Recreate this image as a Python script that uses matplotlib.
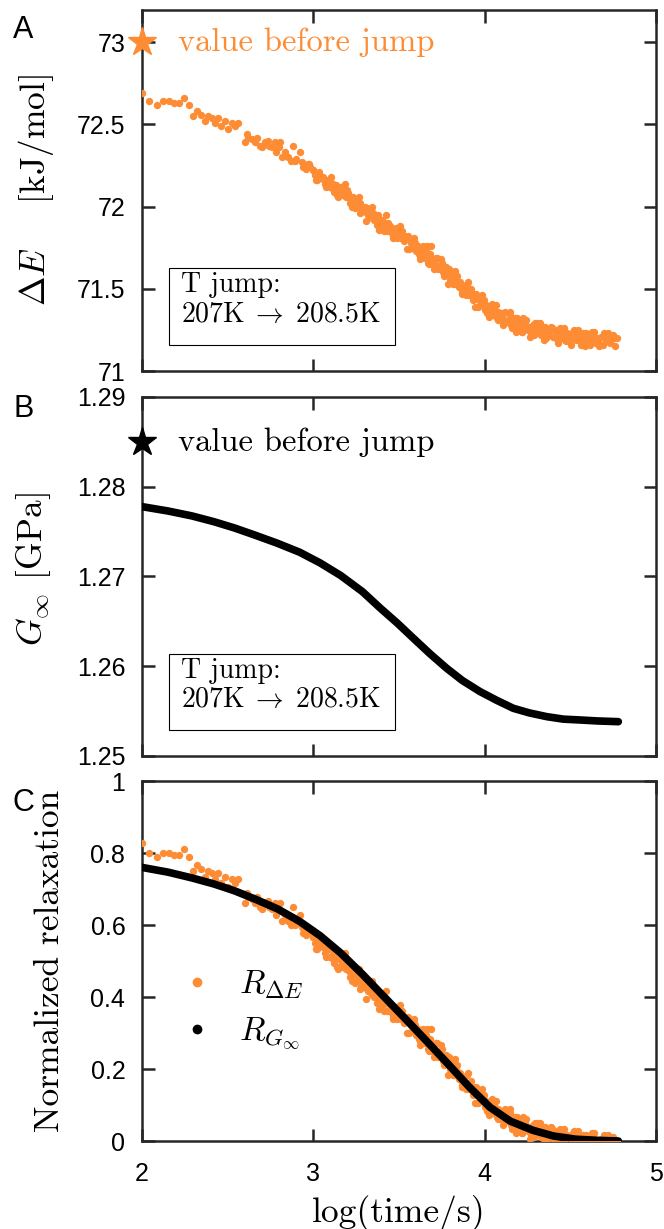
import matplotlib
matplotlib.use('Agg')
import matplotlib.pyplot as plt
from matplotlib.lines import Line2D
from matplotlib.patches import Rectangle
import numpy as np

plt.rcParams['font.family'] = ['Liberation Sans', 'DejaVu Sans']
plt.rcParams['mathtext.fontset'] = 'cm'

# ---- data ----
# panel A: activation energy after the T jump (orange dots)
log_t_dE = [2.000, 2.043, 2.086, 2.120, 2.157, 2.186, 2.218, 2.247, 2.276, 2.300,
            2.323, 2.344, 2.368, 2.387, 2.407, 2.426, 2.445, 2.459, 2.484, 2.504,
            2.523, 2.543, 2.562, 2.601, 2.610, 2.620, 2.640, 2.660, 2.670, 2.689,
            2.700, 2.718, 2.737, 2.740, 2.757, 2.776, 2.780, 2.800, 2.805, 2.815,
            2.835, 2.840, 2.854, 2.870, 2.883, 2.893, 2.900, 2.922, 2.932, 2.941,
            2.950, 2.971, 2.980, 3.000, 3.010, 3.020, 3.029, 3.040, 3.058, 3.070,
            3.087, 3.100, 3.117, 3.120, 3.130, 3.140, 3.156, 3.170, 3.185, 3.190,
            3.204, 3.210, 3.220, 3.233, 3.243, 3.250, 3.260, 3.272, 3.280, 3.292,
            3.300, 3.311, 3.320, 3.331, 3.340, 3.350, 3.360, 3.370, 3.380, 3.390,
            3.399, 3.409, 3.420, 3.430, 3.447, 3.450, 3.460, 3.467, 3.470,
            3.48, 3.49, 3.50, 3.51, 3.52, 3.53, 3.54, 3.55, 3.56, 3.57,
            3.58, 3.59, 3.60, 3.61, 3.62, 3.63, 3.64, 3.65, 3.66, 3.67,
            3.68, 3.685, 3.69, 3.70, 3.71, 3.72, 3.73, 3.74, 3.75, 3.76, 3.77,
            3.78, 3.79, 3.80, 3.81, 3.82, 3.83, 3.84, 3.85, 3.86, 3.87,
            3.88, 3.89, 3.90, 3.91, 3.92, 3.93, 3.94, 3.95, 3.96, 3.97,
            3.98, 3.99, 4.00, 4.01, 4.02, 4.03, 4.04, 4.05, 4.06, 4.07,
            4.08, 4.09, 4.10, 4.11, 4.12, 4.13, 4.14, 4.15, 4.16, 4.17,
            4.18, 4.19, 4.20, 4.21, 4.22, 4.23, 4.24, 4.25, 4.26, 4.27,
            4.28, 4.29, 4.30, 4.31, 4.32, 4.33, 4.34, 4.35, 4.36, 4.37,
            4.38, 4.39, 4.40, 4.41, 4.42, 4.43, 4.44, 4.45, 4.46, 4.47,
            4.48, 4.49, 4.50, 4.51, 4.52, 4.53, 4.54, 4.55, 4.56, 4.57,
            4.58, 4.59, 4.60, 4.61, 4.62, 4.63, 4.64, 4.65, 4.66, 4.67,
            4.68, 4.69, 4.70, 4.71, 4.72, 4.73, 4.74, 4.75, 4.76, 4.77]
dE = [72.69, 72.64, 72.62, 72.64, 72.64, 72.63, 72.63, 72.66, 72.62, 72.55,
      72.58, 72.56, 72.52, 72.55, 72.54, 72.51, 72.54, 72.49, 72.52, 72.47,
      72.51, 72.49, 72.51, 72.39, 72.44, 72.42, 72.41, 72.39, 72.42, 72.37,
      72.36, 72.39, 72.40, 72.37, 72.36, 72.39, 72.33, 72.36, 72.39, 72.30,
      72.33, 72.31, 72.30, 72.28, 72.37, 72.28, 72.29, 72.33, 72.27, 72.24,
      72.25, 72.26, 72.24, 72.22, 72.19, 72.16, 72.20, 72.18, 72.17, 72.14,
      72.16, 72.12, 72.14, 72.09, 72.11, 72.07, 72.12, 72.09, 72.11, 72.06,
      72.08, 72.05, 72.02, 72.06, 71.99, 72.03, 72.00, 72.02, 71.97, 71.99,
      72.00, 71.96, 71.95, 71.98, 71.93, 71.96, 71.94, 71.89, 71.91, 71.87,
      71.92, 71.88, 71.90, 71.85, 71.86, 71.88, 71.84, 71.82, 71.86,
      71.87, 71.81, 71.84, 71.81, 71.85, 71.79, 71.80, 71.82, 71.74, 71.78,
      71.76, 71.79, 71.73, 71.76, 71.70, 71.74, 71.76, 71.69, 71.70, 71.66,
      71.71, 71.76, 71.65, 71.68, 71.65, 71.69, 71.62, 71.63, 71.66, 71.58, 71.62,
      71.59, 71.62, 71.56, 71.59, 71.53, 71.56, 71.58, 71.51, 71.52, 71.48,
      71.52, 71.46, 71.49, 71.46, 71.50, 71.43, 71.44, 71.47, 71.39, 71.43,
      71.40, 71.43, 71.37, 71.40, 71.35, 71.38, 71.41, 71.34, 71.35, 71.32,
      71.36, 71.31, 71.34, 71.31, 71.36, 71.30, 71.31, 71.34, 71.26, 71.31,
      71.28, 71.32, 71.26, 71.30, 71.24, 71.28, 71.31, 71.25, 71.26, 71.23,
      71.28, 71.22, 71.26, 71.24, 71.29, 71.22, 71.24, 71.27, 71.20, 71.25,
      71.22, 71.26, 71.21, 71.25, 71.20, 71.23, 71.26, 71.20, 71.22, 71.19,
      71.23, 71.18, 71.22, 71.20, 71.25, 71.19, 71.21, 71.23, 71.16, 71.21,
      71.19, 71.23, 71.18, 71.22, 71.17, 71.21, 71.24, 71.17, 71.19, 71.16,
      71.21, 71.16, 71.20, 71.18, 71.23, 71.17, 71.19, 71.22, 71.15, 71.20]
# the dense late part of the same series (points in between the ones above)
log_t_dE2 = [2.955, 2.975, 2.995, 3.015, 3.035, 3.055, 3.075, 3.095, 3.115, 3.135,
             3.155, 3.175, 3.195, 3.215, 3.235, 3.255, 3.275, 3.295, 3.315, 3.335,
             3.355, 3.375, 3.395, 3.415, 3.435, 3.455, 3.475, 3.495, 3.515, 3.535,
             3.555, 3.575, 3.595, 3.615, 3.635, 3.655, 3.675, 3.695, 3.715, 3.735,
             3.755, 3.775, 3.795, 3.815, 3.835, 3.855, 3.875, 3.895, 3.915, 3.935,
             3.955, 3.975, 3.995, 4.015, 4.035, 4.055, 4.075, 4.095, 4.115, 4.135,
             4.155, 4.175, 4.195, 4.215, 4.235, 4.255, 4.275, 4.295, 4.315, 4.335,
             4.355, 4.375, 4.395, 4.415, 4.435, 4.455, 4.475, 4.495, 4.515, 4.535,
             4.555, 4.575, 4.595, 4.615, 4.635, 4.655, 4.675, 4.695, 4.715, 4.735,
             4.755,
             3.105, 3.145, 3.185, 3.225, 3.265, 3.305, 3.345, 3.385, 3.425, 3.465,
             3.505, 3.545, 3.585, 3.625, 3.665, 3.705, 3.745, 3.785, 3.825, 3.865,
             3.905, 3.945, 3.985, 4.025, 4.065, 4.105, 4.145, 4.185, 4.225, 4.265,
             4.305, 4.345, 4.385, 4.425, 4.465, 4.505, 4.545, 4.585, 4.625, 4.665]
dE2 = [72.23, 72.26, 72.22, 72.16, 72.21, 72.18, 72.12, 72.17, 72.11, 72.13,
       72.11, 72.07, 72.10, 72.02, 72.04, 72.04, 71.96, 71.99, 71.99, 71.94,
       71.92, 71.95, 71.90, 71.85, 71.90, 71.87, 71.82, 71.87, 71.81, 71.82,
       71.80, 71.75, 71.78, 71.71, 71.72, 71.73, 71.65, 71.68, 71.69, 71.63,
       71.60, 71.63, 71.58, 71.53, 71.57, 71.54, 71.48, 71.53, 71.46, 71.47,
       71.44, 71.40, 71.43, 71.35, 71.37, 71.38, 71.31, 71.35, 71.35, 71.30,
       71.28, 71.32, 71.28, 71.24, 71.29, 71.27, 71.23, 71.29, 71.24, 71.26,
       71.25, 71.22, 71.26, 71.20, 71.22, 71.24, 71.18, 71.22, 71.24, 71.20,
       71.18, 71.23, 71.20, 71.16, 71.22, 71.20, 71.16, 71.23, 71.18, 71.21,
       71.20,
       72.18, 72.06, 72.14, 72.00, 72.06, 71.91, 72.00, 71.86, 71.95, 71.81,
       71.88, 71.74, 71.81, 71.68, 71.76, 71.62, 71.68, 71.53, 71.61, 71.47,
       71.54, 71.39, 71.46, 71.33, 71.40, 71.28, 71.36, 71.24, 71.32, 71.21,
       71.29, 71.19, 71.27, 71.17, 71.26, 71.16, 71.25, 71.15, 71.24, 71.15]
dE_before = 73.0
dE_final = 71.2

# panel B: high-frequency shear modulus (black curve)
log_t_g = [2.00, 2.15, 2.29, 2.42, 2.54, 2.66, 2.79, 2.92, 3.04, 3.16, 3.287,
           3.389, 3.49, 3.584, 3.68, 3.778, 3.87, 3.973, 4.07, 4.167, 4.26,
           4.362, 4.46, 4.556, 4.66, 4.78]
g_inf = [1.27778, 1.2773, 1.27675, 1.2761, 1.2754, 1.2746, 1.2737, 1.2727,
         1.2715, 1.2701, 1.2683, 1.2665, 1.2648, 1.26311, 1.2614, 1.25977,
         1.2584, 1.25717, 1.2562, 1.25531, 1.2548, 1.25438, 1.2541, 1.25401,
         1.2539, 1.25382]
g_before = 1.285

# panel C: normalized relaxation of G_inf (black curve)
log_t_r = [2.00, 2.15, 2.29, 2.42, 2.54, 2.66, 2.79, 2.92, 3.04, 3.16, 3.287,
           3.41, 3.536, 3.66, 3.784, 3.91, 4.03, 4.15, 4.28, 4.40, 4.53, 4.65, 4.78]
r_g = [0.760, 0.747, 0.731, 0.714, 0.695, 0.672, 0.645, 0.610, 0.570, 0.522,
       0.463, 0.402, 0.340, 0.278, 0.215, 0.150, 0.094, 0.055, 0.030, 0.014,
       0.005, 0.002, 0.000]

x_ticks = [2, 3, 4, 5]
x_ticklabels = ['2', '3', '4', '5']
a_ticks = [71, 71.5, 72, 72.5, 73]
a_ticklabels = ['71', '71.5', '72', '72.5', '73']
b_ticks = [1.25, 1.26, 1.27, 1.28, 1.29]
b_ticklabels = ['1.25', '1.26', '1.27', '1.28', '1.29']
c_ticks = [0, 0.2, 0.4, 0.6, 0.8, 1]
c_ticklabels = ['0', '0.2', '0.4', '0.6', '0.8', '1']

ORANGE = '#fe8c35'
AXC = '#262626'
CM = 'cmr10'

t_all = log_t_dE + log_t_dE2
dE_all = np.array(dE + dE2)
r_dE = (dE_all - dE_final) / (dE_before - dE_final)

fig = plt.figure(figsize=(6.64, 12.29), dpi=100)
axA = fig.add_axes([0.2139, 0.6981, 0.7741, 0.2937])
axB = fig.add_axes([0.2139, 0.3849, 0.7741, 0.2921])
axC = fig.add_axes([0.2139, 0.0716, 0.7741, 0.2929])


def style(ax):
    for s in ax.spines.values():
        s.set_linewidth(1.8)
        s.set_color(AXC)
    ax.tick_params(direction='in', length=9, width=1.8, color=AXC,
                   top=True, right=True, labelsize=18, pad=12)
    ax.set_xlim(2, 5)
    ax.set_xticks(x_ticks, x_ticklabels)


for ax in (axA, axB, axC):
    style(ax)

# ---- A ----
axA.scatter(t_all, dE_all, s=28, color=ORANGE, linewidths=0, zorder=3)
axA.plot([2], [dE_before], marker='*', ms=21, color=ORANGE, clip_on=False,
         zorder=6, linestyle='none')
axA.text(2.21, dE_before, 'value before jump', fontfamily=CM, fontsize=23.5,
         color=ORANGE, va='center', ha='left')
axA.set_ylim(71, 73.195)
axA.set_yticks(a_ticks, a_ticklabels)
axA.tick_params(labelbottom=False)
axA.set_ylabel(r'$\Delta E$    [kJ/mol]', fontfamily=CM, fontsize=25.5)
axA.yaxis.set_label_coords(-0.167, 0.5)

# ---- B ----
axB.plot(log_t_g, g_inf, color='k', lw=5.5, solid_capstyle='round', zorder=3)
axB.plot([2], [g_before], marker='*', ms=21, color='k', clip_on=False,
         zorder=6, linestyle='none')
axB.text(2.21, g_before, 'value before jump', fontfamily=CM, fontsize=23.5,
         color='k', va='center', ha='left')
axB.set_ylim(1.25, 1.29)
axB.set_yticks(b_ticks, b_ticklabels)
axB.tick_params(labelbottom=False)
axB.set_ylabel(r'$G_\infty$ [GPa]', fontfamily=CM, fontsize=25.5)
axB.yaxis.set_label_coords(-0.173, 0.52)

# T jump boxes
for ax in (axA, axB):
    ax.add_patch(Rectangle((0.0525, 0.072), 0.4395, 0.213, transform=ax.transAxes,
                           fill=False, edgecolor='k', lw=0.8, zorder=5))
    ax.text(0.076, 0.238, 'T jump:', transform=ax.transAxes, fontfamily=CM,
            fontsize=20, va='center', ha='left')
    ax.text(0.076, 0.155, r'207K$\;\rightarrow\;$208.5K', transform=ax.transAxes,
            fontfamily=CM, fontsize=20, va='center', ha='left')

# ---- C ----
axC.scatter(t_all, r_dE, s=28, color=ORANGE, linewidths=0, zorder=3)
axC.plot(log_t_r, r_g, color='k', lw=5.5, solid_capstyle='round', zorder=4)
axC.set_ylim(0, 1)
axC.set_yticks(c_ticks, c_ticklabels)
axC.tick_params(axis='x', pad=15)
axC.set_ylabel('Normalized relaxation', fontfamily=CM, fontsize=25.5)
axC.yaxis.set_label_coords(-0.148, 0.5)
axC.set_xlabel('log(time/s)', fontfamily=CM, fontsize=25.5)
axC.xaxis.set_label_coords(0.5, -0.15)

handles = [Line2D([], [], marker='o', ms=6, color=ORANGE, linestyle='none'),
           Line2D([], [], marker='o', ms=6, color='k', linestyle='none')]
axC.legend(handles, [r'$R_{\Delta E}$', r'$R_{G_\infty}$'], loc='center left',
           bbox_to_anchor=(0.074, 0.3625), frameon=False, fontsize=24,
           handlelength=1.0, handletextpad=0.76, labelspacing=0.45,
           borderpad=0, borderaxespad=0)

# panel letters
for letter, ypx in (('A', 30), ('B', 409), ('C', 803)):
    fig.text(13 / 664, 1 - ypx / 1229, letter, fontsize=22, va='center', ha='left')

fig.savefig('out.png', dpi=100)
